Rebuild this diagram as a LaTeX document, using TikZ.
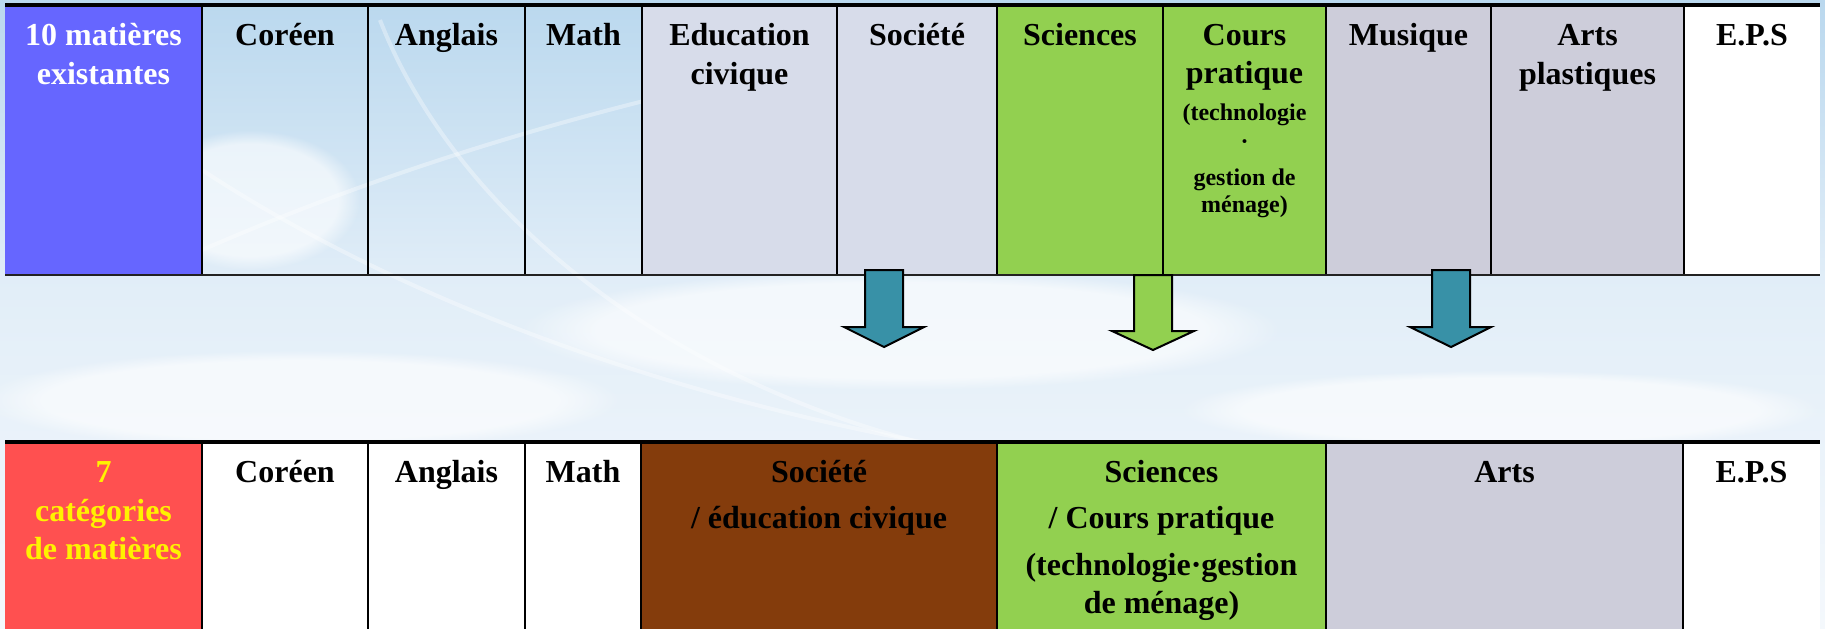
\documentclass[tikz,border=0pt]{standalone}
\usepackage{fontspec}
\usetikzlibrary{fadings}
\setmainfont{Liberation Serif}
\definecolor{skyA}{HTML}{BAD8EE}
\definecolor{skyB}{HTML}{E2EEF8}
\definecolor{skyC}{HTML}{F4F8FC}
\definecolor{cBlue}{HTML}{6666FF}
\definecolor{cGrey}{HTML}{D7DCEA}
\definecolor{cLav}{HTML}{CDCDDA}
\definecolor{cGreen}{HTML}{92D050}
\definecolor{cBrown}{HTML}{843C0C}
\definecolor{cRed}{HTML}{FF5050}
\definecolor{cTeal}{HTML}{3891A7}
\definecolor{cLine}{HTML}{222222}
\tikzset{
  lbl/.style={anchor=base, inner sep=0pt, font=\fontsize{16}{19}\selectfont\bfseries},
  smalllbl/.style={anchor=base, inner sep=0pt, font=\fontsize{12}{14}\selectfont\bfseries},
  vline/.style={draw=black, line width=1.25pt},
  hthick/.style={draw=black, line width=2pt},
  hthin/.style={draw=cLine, line width=1pt},
  blockarrow/.style={draw=black, line width=1pt, line join=miter},
  swoosh/.style={draw=white, line width=2, opacity=0.35},
  glow/.style={fill=white, path fading=circle with fuzzy edge 20 percent, opacity=0.6},
}
\begin{document}
\begin{tikzpicture}[x=0.5pt,y=-0.5pt]
\useasboundingbox (0,0) rectangle (1825,628);
% ---------- background (sky) ----------
\fill[top color=skyA, bottom color=skyB] (0,0) rectangle (1825,290);
\fill[top color=skyB, bottom color=skyC] (0,290) rectangle (1825,628);
\fill[glow] (250,200) ellipse (110 and 70);
\fill[glow] (900,330) ellipse (380 and 60);
\fill[glow] (300,400) ellipse (320 and 50);
\fill[glow] (1500,410) ellipse (320 and 40);
\draw[swoosh] (202,250) .. controls (500,120) and (800,60) .. (1000,30);
\draw[swoosh] (202,170) .. controls (400,300) and (700,420) .. (1100,470);
\draw[swoosh] (380,20) .. controls (450,200) and (650,380) .. (950,450);
% ---------- top row cells ----------
\fill[cBlue] (5,5) rectangle (202,275);
\fill[cGrey] (642,5) rectangle (997,275);
\fill[cGreen] (997,5) rectangle (1326,275);
\fill[cLav] (1326,5) rectangle (1684,275);
\fill[white] (1684,5) rectangle (1820,275);
% ---------- bottom row cells ----------
\fill[cRed] (5,442) rectangle (202,640);
\fill[white] (202,442) rectangle (641,640);
\fill[cBrown] (641,442) rectangle (997,640);
\fill[cGreen] (997,442) rectangle (1326,640);
\fill[cLav] (1326,442) rectangle (1683,640);
\fill[white] (1683,442) rectangle (1820,640);
% ---------- grid lines, top row ----------
\foreach \x in {202,368,525,642,837,997,1163,1326,1491,1684}
  \draw[vline] (\x,5) -- (\x,275);
\draw[hthin] (5,275) -- (1820,275);
\draw[hthick] (5,5) -- (1820,5);
% ---------- grid lines, bottom row ----------
\foreach \x in {202,368,525,641,997,1326,1683}
  \draw[vline] (\x,442) -- (\x,640);
\draw[hthick] (5,442) -- (1820,442);
% ---------- top row texts ----------
\node[lbl, text=white] (t0a) at (103.5,45) {10 matières};
\node[lbl, text=white] (t0b) at (103.5,84) {existantes};
\node[lbl] (t1) at (285,45) {Coréen};
\node[lbl] (t2) at (446.5,45) {Anglais};
\node[lbl] (t3) at (583.5,45) {Math};
\node[lbl] (t4a) at (739.5,45) {Education};
\node[lbl] (t4b) at (739.5,84) {civique};
\node[lbl] (t5) at (917,45) {Société};
\node[lbl] (t6) at (1080,45) {Sciences};
\node[lbl] (t7a) at (1244.5,45) {Cours};
\node[lbl] (t7b) at (1244.5,83) {pratique};
\node[smalllbl] (t7c) at (1244.5,120) {(technologie};
\node[smalllbl] (t7d) at (1244.5,149) {·};
\node[smalllbl] (t7e) at (1244.5,185) {gestion de};
\node[smalllbl] (t7f) at (1244.5,212) {ménage)};
\node[lbl] (t8) at (1408.5,45) {Musique};
\node[lbl] (t9a) at (1587.5,45) {Arts};
\node[lbl] (t9b) at (1587.5,84) {plastiques};
\node[lbl] (t10) at (1752,45) {E.P.S};
% ---------- bottom row texts ----------
\node[lbl, text=yellow] (b0a) at (103.5,482) {7};
\node[lbl, text=yellow] (b0b) at (103.5,521) {catégories};
\node[lbl, text=yellow] (b0c) at (103.5,559) {de matières};
\node[lbl] (b1) at (285,482) {Coréen};
\node[lbl] (b2) at (446.5,482) {Anglais};
\node[lbl] (b3) at (583,482) {Math};
\node[lbl] (b4a) at (819,482) {Société};
\node[lbl] (b4b) at (819,528) {/ éducation civique};
\node[lbl] (b5a) at (1161.5,482) {Sciences};
\node[lbl] (b5b) at (1161.5,528) {/ Cours pratique};
\node[lbl] (b5c) at (1161.5,575) {(technologie·gestion};
\node[lbl] (b5d) at (1161.5,613) {de ménage)};
\node[lbl] (b6) at (1504.5,482) {Arts};
\node[lbl] (b7) at (1751.5,482) {E.P.S};
% ---------- block arrows ----------
\draw[blockarrow, fill=cTeal] (865,270) -- (903,270) -- (903,327) -- (924,327)
  -- (884,347) -- (844,327) -- (865,327) -- cycle;
\draw[blockarrow, fill=cGreen] (1134,275) -- (1172,275) -- (1172,331) -- (1194,331)
  -- (1153,350) -- (1112,331) -- (1134,331) -- cycle;
\draw[blockarrow, fill=cTeal] (1432,270) -- (1470,270) -- (1470,327) -- (1491,327)
  -- (1451,347) -- (1410,327) -- (1432,327) -- cycle;
\end{tikzpicture}
\end{document}
